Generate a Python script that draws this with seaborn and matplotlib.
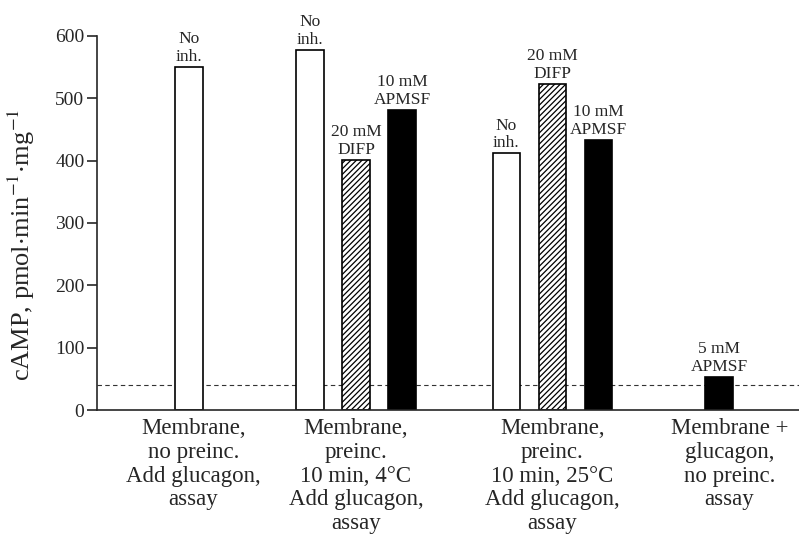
import matplotlib

matplotlib.use("Agg")
import matplotlib.pyplot as plt
import numpy as np
import pandas as pd
import seaborn as sns

# Data (cAMP, pmol/min/mg)
groups = [
    "Membrane,\nno preinc.\nAdd glucagon,\nassay",
    "Membrane,\npreinc.\n10 min, 4°C\nAdd glucagon,\nassay",
    "Membrane,\npreinc.\n10 min, 25°C\nAdd glucagon,\nassay",
    "Membrane +\nglucagon,\nno preinc.\nassay",
]
bar_group = [0, 1, 1, 1, 2, 2, 2, 3]
bar_slot = [0, -1, 0, 1, -1, 0, 1, 0]
inhibitor = ["none", "none", "DIFP", "APMSF", "none", "DIFP", "APMSF", "APMSF"]
bar_labels = [
    "No\ninh.", "No\ninh.", "20 mM\nDIFP", "10 mM\nAPMSF",
    "No\ninh.", "20 mM\nDIFP", "10 mM\nAPMSF", "5 mM\nAPMSF",
]
camp = [551, 578, 401, 482, 412, 523, 433, 53]
baseline = 40

# layout
group_centers = np.array([2.0, 5.63, 9.9, 13.52])
label_centers = np.array([2.1, 5.63, 9.9, 13.75])
styles = {
    "none": dict(facecolor="white", hatch=None),
    "DIFP": dict(facecolor="white", hatch="//////"),
    "APMSF": dict(facecolor="black", hatch=None),
}

df = pd.DataFrame({
    "pos": group_centers[bar_group] + np.array(bar_slot),
    "camp": camp,
    "inhibitor": inhibitor,
    "label": bar_labels,
})

sns.set_theme(style="ticks")
plt.rcParams["font.family"] = ["Liberation Serif", "DejaVu Serif"]
plt.rcParams["mathtext.fontset"] = "stix"
plt.rcParams["hatch.linewidth"] = 0.9

fig = plt.figure(figsize=(7.99, 5.34), dpi=100)
ax = fig.add_axes([0.1214, 0.2322, 0.8786, 0.7004])

sns.barplot(data=df, x="pos", y="camp", native_scale=True, width=0.6,
            color="white", edgecolor="black", linewidth=1.2, ax=ax)

bars = sorted(ax.patches, key=lambda p: p.get_x())
for patch, (_, row) in zip(bars, df.sort_values("pos").iterrows()):
    st = styles[row["inhibitor"]]
    patch.set_facecolor(st["facecolor"])
    if st["hatch"]:
        patch.set_hatch(st["hatch"])
    ax.text(row["pos"], row["camp"] + 3, row["label"], ha="center", va="bottom",
            fontsize=12.5, linespacing=1.15)

ax.axhline(baseline, color="#333333", linestyle=(0, (4, 3)), linewidth=0.8, zorder=0)

ax.set_xlim(0, 15.26)
ax.set_ylim(0, 600)
ax.set_yticks(range(0, 601, 100))
ax.set_xticks(label_centers)
ax.set_xticklabels(groups, fontsize=16.5, linespacing=1.17)
ax.tick_params(axis="x", length=0, pad=6)
ax.tick_params(axis="y", length=7, width=1.2, labelsize=14, pad=2)
ax.set_xlabel("")
ax.set_ylabel(r"cAMP, pmol$\cdot$min$^{-1}$$\cdot$mg$^{-1}$", fontsize=19)
ax.yaxis.set_label_coords(-0.086, 0.44)

for side in ["top", "right"]:
    ax.spines[side].set_visible(False)
for side in ["left", "bottom"]:
    ax.spines[side].set_linewidth(1.2)

fig.savefig("out.png", dpi=100)
